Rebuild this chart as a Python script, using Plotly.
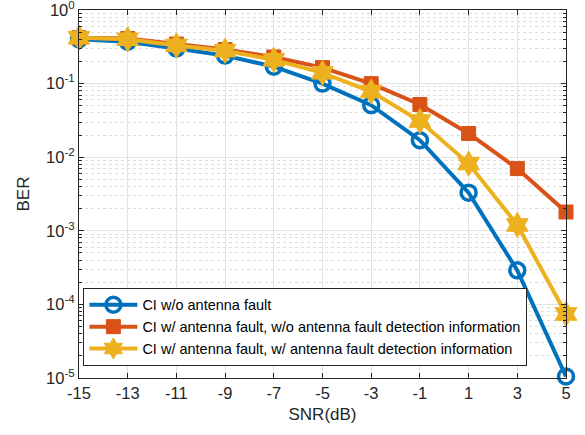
import plotly.graph_objects as go

snr = [-15, -13, -11, -9, -7, -5, -3, -1, 1, 3, 5]
ber_no_fault = [0.40, 0.37, 0.30, 0.24, 0.17, 0.10, 0.051, 0.017, 3.3e-3, 2.9e-4, 1.05e-5]
ber_fault_no_info = [0.42, 0.41, 0.345, 0.29, 0.23, 0.165, 0.10, 0.052, 0.021, 7.0e-3, 1.8e-3]
ber_fault_info = [0.42, 0.40, 0.33, 0.28, 0.21, 0.14, 0.078, 0.031, 8.2e-3, 1.2e-3, 7.4e-5]

names = ["CI w/o antenna fault",
         "CI w/ antenna fault, w/o antenna fault detection information",
         "CI w/ antenna fault, w/ antenna fault detection information"]
colors = ["#0072BD", "#D95319", "#EDB120"]

x_ticks = [-15, -13, -11, -9, -7, -5, -3, -1, 1, 3, 5]
y_tick_vals = [1e-5, 1e-4, 1e-3, 1e-2, 1e-1, 1]
y_tick_text = ["10<sup>-5</sup>", "10<sup>-4</sup>", "10<sup>-3</sup>",
               "10<sup>-2</sup>", "10<sup>-1</sup>", "10<sup>0</sup>"]
y_minor = [m * 10.0 ** e for e in range(-5, 0) for m in range(2, 10)]

fig = go.Figure()
fig.add_trace(go.Scatter(x=snr, y=ber_no_fault, name=names[0], mode="lines+markers",
                         line=dict(color=colors[0], width=4),
                         marker=dict(symbol="circle-open", size=15, color=colors[0],
                                     line=dict(color=colors[0], width=3.5)),
                         cliponaxis=False))
fig.add_trace(go.Scatter(x=snr, y=ber_fault_no_info, name=names[1], mode="lines+markers",
                         line=dict(color=colors[1], width=4),
                         marker=dict(symbol="square", size=14, color=colors[1],
                                     line=dict(color=colors[1], width=1)),
                         cliponaxis=False))
fig.add_trace(go.Scatter(x=snr, y=ber_fault_info, name=names[2], mode="lines+markers",
                         line=dict(color=colors[2], width=4),
                         marker=dict(symbol="hexagram", size=19, color=colors[2],
                                     line=dict(color=colors[2], width=1)),
                         cliponaxis=False))

fam = "Liberation Sans, Arial, sans-serif"
axis_font = dict(family=fam, size=16.5, color="#262626")

fig.update_layout(
    width=585, height=435,
    margin=dict(l=79, r=19, t=10, b=57),
    paper_bgcolor="white", plot_bgcolor="white",
    font=axis_font,
    showlegend=True,
    legend=dict(x=0.009, y=0.033, xanchor="left", yanchor="bottom",
                bgcolor="white", bordercolor="#262626", borderwidth=1,
                font=dict(family=fam, size=14.5, color="#000000"),
                tracegroupgap=0, itemwidth=48),
)
fig.update_xaxes(
    range=[-15, 5], tickvals=x_ticks, ticktext=[str(v) for v in x_ticks],
    showline=True, linecolor="#262626", linewidth=1, mirror="ticks",
    ticks="inside", ticklen=5, tickcolor="#262626",
    showgrid=True, gridcolor="#e3e3e3", gridwidth=1, zeroline=False,
    automargin=False, ticklabeloverflow="allow",
    title=dict(text="SNR(dB)", font=dict(family=fam, size=17, color="#262626"), standoff=7),
    tickfont=axis_font,
)
fig.update_yaxes(
    type="log", range=[-5, 0], tickvals=y_tick_vals, ticktext=y_tick_text,
    showline=True, linecolor="#262626", linewidth=1, mirror="ticks",
    ticks="inside", ticklen=5, tickcolor="#262626",
    showgrid=True, gridcolor="#e3e3e3", gridwidth=1, zeroline=False,
    automargin=False, ticklabeloverflow="allow",
    minor=dict(tickmode="array", tickvals=y_minor, ticks="inside", ticklen=3,
               tickcolor="#262626", showgrid=True, gridcolor="#dedede", griddash="dot"),
    title=dict(text="BER", font=dict(family=fam, size=17, color="#262626"), standoff=12),
    tickfont=axis_font,
)

fig.write_html("out.html", config={"displayModeBar": False},
               post_script="document.body.style.margin='0';")
